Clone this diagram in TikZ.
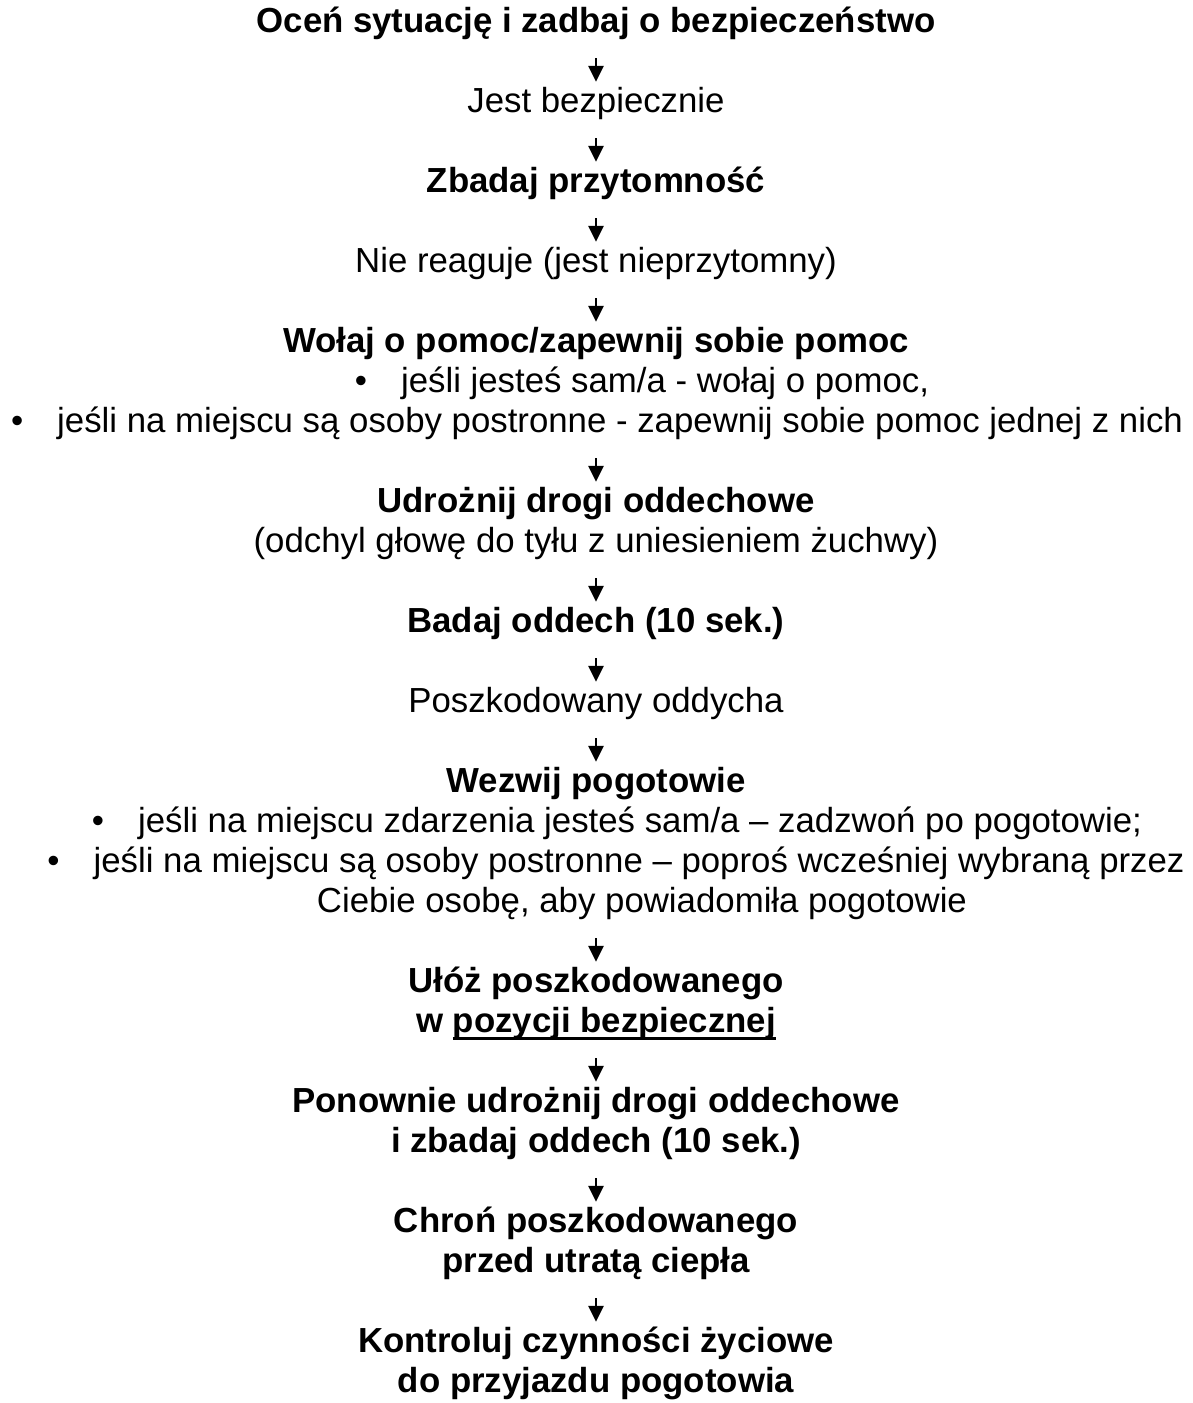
\documentclass[tikz,border=0pt]{standalone}
\usepackage{fontspec}
\setmainfont{Liberation Sans}
\usetikzlibrary{arrows.meta}
\newcommand{\undl}[1]{\setbox0\hbox{#1}\rlap{\rule[-8pt]{\wd0}{2.8pt}}\box0}
\newcommand{\bul}{\textbullet\hspace{34pt}}

\begin{document}
\begin{tikzpicture}[x=1pt, y=-1pt, every node/.style={inner sep=0pt,
  anchor=base, text height=25pt, text depth=8pt,
  font=\fontsize{34.8}{40}\selectfont},
  hdr/.style={font=\fontsize{34.8}{40}\selectfont\bfseries},
  arr/.style={-{Triangle[width=15pt, length=16pt]}, line width=2.6pt,
  shorten <=18pt, shorten >=5pt}]
  \useasboundingbox (0,0) rectangle (1192,1403);
  \node[hdr] (ocen)    at (596, 32)   {Oceń sytuację i zadbaj o bezpieczeństwo};
  \node      (bezp)    at (596, 112)  {Jest bezpiecznie};
  \node[hdr] (zbadaj)  at (596, 192)  {Zbadaj przytomność};
  \node      (niereag) at (596, 272)  {Nie reaguje (jest nieprzytomny)};
  \node[hdr] (wolaj)   at (596, 352)  {Wołaj o pomoc/zapewnij sobie pomoc};
  \node      (wolajA)  at (642, 392)  {\bul jeśli jesteś sam/a - wołaj o pomoc,};
  \node      (wolajB)  at (597, 432)  {\bul jeśli na miejscu są osoby postronne - zapewnij sobie pomoc jednej z nich};
  \node[hdr] (udroz)   at (596, 512)  {Udrożnij drogi oddechowe};
  \node      (odchyl)  at (596, 552)  {(odchyl głowę do tyłu z uniesieniem żuchwy)};
  \node[hdr] (badaj)   at (596, 632)  {Badaj oddech (10 sek.)};
  \node      (oddycha) at (596, 712)  {Poszkodowany oddycha};
  \node[hdr] (wezwij)  at (596, 792)  {Wezwij pogotowie};
  \node      (wezwijA) at (617, 832)  {\bul jeśli na miejscu zdarzenia jesteś sam/a – zadzwoń po pogotowie;};
  \node      (wezwijB) at (616, 872)  {\bul jeśli na miejscu są osoby postronne – poproś wcześniej wybraną przez};
  \node      (wezwijC) at (642, 912)  {Ciebie osobę, aby powiadomiła pogotowie};
  \node[hdr] (uloz)    at (596, 992)  {Ułóż poszkodowanego};
  \node[hdr] (ulozB)   at (596, 1032) {w \undl{pozycji bezpiecznej}};
  \node[hdr] (ponow)   at (596, 1112) {Ponownie udrożnij drogi oddechowe};
  \node[hdr] (ponowB)  at (596, 1152) {i zbadaj oddech (10 sek.)};
  \node[hdr] (chron)   at (596, 1232) {Chroń poszkodowanego};
  \node[hdr] (chronB)  at (596, 1272) {przed utratą ciepła};
  \node[hdr] (kontrol) at (596, 1352) {Kontroluj czynności życiowe};
  \node[hdr] (kontrolB) at (596, 1392) {do przyjazdu pogotowia};
  % arrows between the steps
  \foreach \a/\b in {ocen/bezp, bezp/zbadaj, zbadaj/niereag, niereag/wolaj,
    odchyl/badaj, badaj/oddycha, oddycha/wezwij,
    ulozB/ponow, ponowB/chron, chronB/kontrol}
    \draw[arr] (\a) -- (\b);
  \draw[arr] (wolajB.south -| udroz) -- (udroz);
  \draw[arr] (wezwijC.south -| wezwij) -- (uloz);
\end{tikzpicture}
\end{document}
